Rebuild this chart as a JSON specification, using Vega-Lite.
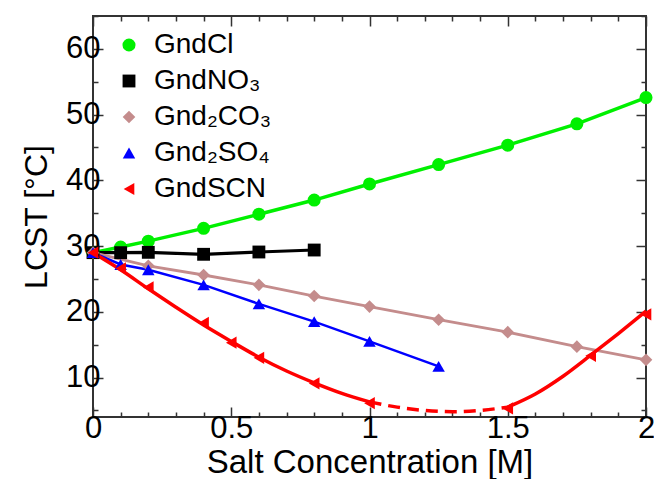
{
  "$schema": "https://vega.github.io/schema/vega-lite/v6.json",
  "width": 553,
  "height": 401,
  "autosize": {"type": "none"},
  "padding": {"left": 93, "top": 16, "right": 8, "bottom": 62},
  "config": {
    "font": "Liberation Sans",
    "view": {"stroke": "#333333", "strokeWidth": 2},
    "axis": {"grid": false, "domain": false, "tickColor": "#333333", "tickWidth": 1.5, "labelColor": "#000000", "titleColor": "#000000", "labelFlush": false},
    "legend": {"orient": "none", "legendX": 22, "legendY": 15, "padding": 0, "labelFontSize": 28, "labelColor": "#000000", "symbolStrokeWidth": 0, "symbolSize": 150, "labelOffset": 11, "rowPadding": 8, "labelLimit": 300}
  },
  "datasets": {
    "pts": [
      {"salt": "GndCl", "c": 0, "t": 29.0},
      {"salt": "GndCl", "c": 0.1, "t": 29.85},
      {"salt": "GndCl", "c": 0.2, "t": 30.75},
      {"salt": "GndCl", "c": 0.4, "t": 32.7},
      {"salt": "GndCl", "c": 0.6, "t": 34.85},
      {"salt": "GndCl", "c": 0.8, "t": 37.0},
      {"salt": "GndCl", "c": 1.0, "t": 39.45},
      {"salt": "GndCl", "c": 1.25, "t": 42.4},
      {"salt": "GndCl", "c": 1.5, "t": 45.35},
      {"salt": "GndCl", "c": 1.75, "t": 48.6},
      {"salt": "GndCl", "c": 2.0, "t": 52.6},
      {"salt": "GndNO₃", "c": 0, "t": 29.0},
      {"salt": "GndNO₃", "c": 0.1, "t": 29.0},
      {"salt": "GndNO₃", "c": 0.2, "t": 29.05},
      {"salt": "GndNO₃", "c": 0.4, "t": 28.75},
      {"salt": "GndNO₃", "c": 0.6, "t": 29.1},
      {"salt": "GndNO₃", "c": 0.8, "t": 29.4},
      {"salt": "Gnd₂CO₃", "c": 0, "t": 29.0},
      {"salt": "Gnd₂CO₃", "c": 0.2, "t": 27.0},
      {"salt": "Gnd₂CO₃", "c": 0.4, "t": 25.6},
      {"salt": "Gnd₂CO₃", "c": 0.6, "t": 24.1},
      {"salt": "Gnd₂CO₃", "c": 0.8, "t": 22.4},
      {"salt": "Gnd₂CO₃", "c": 1.0, "t": 20.8},
      {"salt": "Gnd₂CO₃", "c": 1.25, "t": 18.8},
      {"salt": "Gnd₂CO₃", "c": 1.5, "t": 16.9},
      {"salt": "Gnd₂CO₃", "c": 1.75, "t": 14.7},
      {"salt": "Gnd₂CO₃", "c": 2.0, "t": 12.7},
      {"salt": "Gnd₂SO₄", "c": 0, "t": 29.0},
      {"salt": "Gnd₂SO₄", "c": 0.1, "t": 27.2},
      {"salt": "Gnd₂SO₄", "c": 0.2, "t": 26.4},
      {"salt": "Gnd₂SO₄", "c": 0.4, "t": 24.1},
      {"salt": "Gnd₂SO₄", "c": 0.6, "t": 21.2},
      {"salt": "Gnd₂SO₄", "c": 0.8, "t": 18.5},
      {"salt": "Gnd₂SO₄", "c": 1.0, "t": 15.5},
      {"salt": "Gnd₂SO₄", "c": 1.25, "t": 11.7},
      {"salt": "GndSCN", "c": 0, "t": 29.0},
      {"salt": "GndSCN", "c": 0.1, "t": 26.6},
      {"salt": "GndSCN", "c": 0.2, "t": 23.7},
      {"salt": "GndSCN", "c": 0.4, "t": 18.3},
      {"salt": "GndSCN", "c": 0.5, "t": 15.3},
      {"salt": "GndSCN", "c": 0.6, "t": 13.0},
      {"salt": "GndSCN", "c": 0.8, "t": 9.1},
      {"salt": "GndSCN", "c": 1.0, "t": 6.1},
      {"salt": "GndSCN", "c": 1.5, "t": 5.3},
      {"salt": "GndSCN", "c": 1.8, "t": 13.3},
      {"salt": "GndSCN", "c": 2.0, "t": 19.6}
    ],
    "curve": [
      {"seg": "a", "c": 0, "t": 29.0},
      {"seg": "a", "c": 0.1, "t": 26.4},
      {"seg": "a", "c": 0.2, "t": 23.5},
      {"seg": "a", "c": 0.3, "t": 20.7},
      {"seg": "a", "c": 0.4, "t": 18.0},
      {"seg": "a", "c": 0.5, "t": 15.5},
      {"seg": "a", "c": 0.6, "t": 13.1},
      {"seg": "a", "c": 0.7, "t": 11.0},
      {"seg": "a", "c": 0.8, "t": 9.2},
      {"seg": "a", "c": 0.9, "t": 7.6},
      {"seg": "a", "c": 1.0, "t": 6.3},
      {"seg": "b", "c": 1.0, "t": 6.3},
      {"seg": "b", "c": 1.1, "t": 5.5},
      {"seg": "b", "c": 1.2, "t": 5.0},
      {"seg": "b", "c": 1.3, "t": 4.8},
      {"seg": "b", "c": 1.4, "t": 5.0},
      {"seg": "b", "c": 1.5, "t": 5.5},
      {"seg": "c", "c": 1.5, "t": 5.5},
      {"seg": "c", "c": 1.6, "t": 7.5},
      {"seg": "c", "c": 1.7, "t": 10.2},
      {"seg": "c", "c": 1.8, "t": 13.4},
      {"seg": "c", "c": 1.9, "t": 16.7},
      {"seg": "c", "c": 2.0, "t": 20.1}
    ]
  },
  "resolve": {"axis": {"x": "independent", "y": "independent"}},
  "layer": [
    {
      "data": {"name": "pts"},
      "transform": [{"filter": "datum.salt !== 'GndSCN'"}],
      "mark": {"type": "line"},
      "encoding": {
        "x": {"field": "c", "type": "quantitative", "scale": {"domain": [0, 2], "nice": false, "zero": false},
          "axis": {"orient": "bottom", "values": [0, 0.5, 1, 1.5, 2], "format": "~g", "tickSize": -10, "labelFontSize": 31, "labelPadding": 6, "title": "Salt Concentration [M]", "titleFontSize": 33, "titleFontWeight": "normal", "titlePadding": 3}},
        "y": {"field": "t", "type": "quantitative", "scale": {"domain": [4, 65], "nice": false, "zero": false},
          "axis": {"orient": "left", "values": [10, 20, 30, 40, 50, 60], "tickSize": -10, "labelFontSize": 31, "labelPadding": 3, "title": "LCST [°C]", "titleFontSize": 32, "titleFontWeight": "normal", "titlePadding": 12}},
        "stroke": {"field": "salt", "type": "nominal", "legend": null,
          "scale": {"domain": ["GndCl", "GndNO₃", "Gnd₂CO₃", "Gnd₂SO₄"], "range": ["#00f000", "#000000", "#c48c8c", "#0000ff"]}},
        "strokeWidth": {"field": "salt", "type": "nominal", "legend": null,
          "scale": {"domain": ["GndCl", "GndNO₃", "Gnd₂CO₃", "Gnd₂SO₄"], "range": [3.5, 2.5, 2.5, 3.5]}}
      }
    },
    {
      "data": {"name": "curve"},
      "transform": [{"filter": "datum.seg !== 'b'"}],
      "mark": {"type": "line", "color": "#ff0000", "strokeWidth": 3.5, "interpolate": "monotone"},
      "encoding": {
        "x": {"field": "c", "type": "quantitative", "axis": {"orient": "top", "values": [0, 0.5, 1, 1.5, 2], "tickSize": -10, "labels": false, "title": null}},
        "y": {"field": "t", "type": "quantitative", "axis": {"orient": "right", "values": [10, 20, 30, 40, 50, 60], "tickSize": -10, "labels": false, "title": null}},
        "detail": {"field": "seg"}
      }
    },
    {
      "data": {"name": "curve"},
      "transform": [{"filter": "datum.seg === 'b'"}],
      "mark": {"type": "line", "color": "#ff0000", "strokeWidth": 3.5, "interpolate": "monotone", "strokeDash": [12, 7]},
      "encoding": {
        "x": {"field": "c", "type": "quantitative", "axis": {"orient": "bottom", "values": [0.1, 0.2, 0.3, 0.4, 0.6, 0.7, 0.8, 0.9, 1.1, 1.2, 1.3, 1.4, 1.6, 1.7, 1.8, 1.9], "tickSize": -5, "labels": false, "title": null}},
        "y": {"field": "t", "type": "quantitative", "axis": {"orient": "left", "values": [5, 15, 25, 35, 45, 55, 65], "tickSize": -5, "labels": false, "title": null}}
      }
    },
    {
      "data": {"name": "pts"},
      "mark": {"type": "point", "filled": true, "opacity": 1},
      "encoding": {
        "x": {"field": "c", "type": "quantitative", "axis": {"orient": "top", "values": [0.1, 0.2, 0.3, 0.4, 0.6, 0.7, 0.8, 0.9, 1.1, 1.2, 1.3, 1.4, 1.6, 1.7, 1.8, 1.9], "tickSize": -5, "labels": false, "title": null}},
        "y": {"field": "t", "type": "quantitative", "axis": {"orient": "right", "values": [5, 15, 25, 35, 45, 55, 65], "tickSize": -5, "labels": false, "title": null}},
        "color": {"field": "salt", "type": "nominal", "title": null,
          "scale": {"domain": ["GndCl", "GndNO₃", "Gnd₂CO₃", "Gnd₂SO₄", "GndSCN"], "range": ["#00f000", "#000000", "#c48c8c", "#0000ff", "#ff0000"]}},
        "shape": {"field": "salt", "type": "nominal", "title": null,
          "scale": {"domain": ["GndCl", "GndNO₃", "Gnd₂CO₃", "Gnd₂SO₄", "GndSCN"], "range": ["circle", "square", "diamond", "triangle-up", "triangle-left"]}},
        "size": {"field": "salt", "type": "nominal", "title": null,
          "scale": {"domain": ["GndCl", "GndNO₃", "Gnd₂CO₃", "Gnd₂SO₄", "GndSCN"], "range": [170, 150, 170, 240, 250]}}
      }
    }
  ]
}
